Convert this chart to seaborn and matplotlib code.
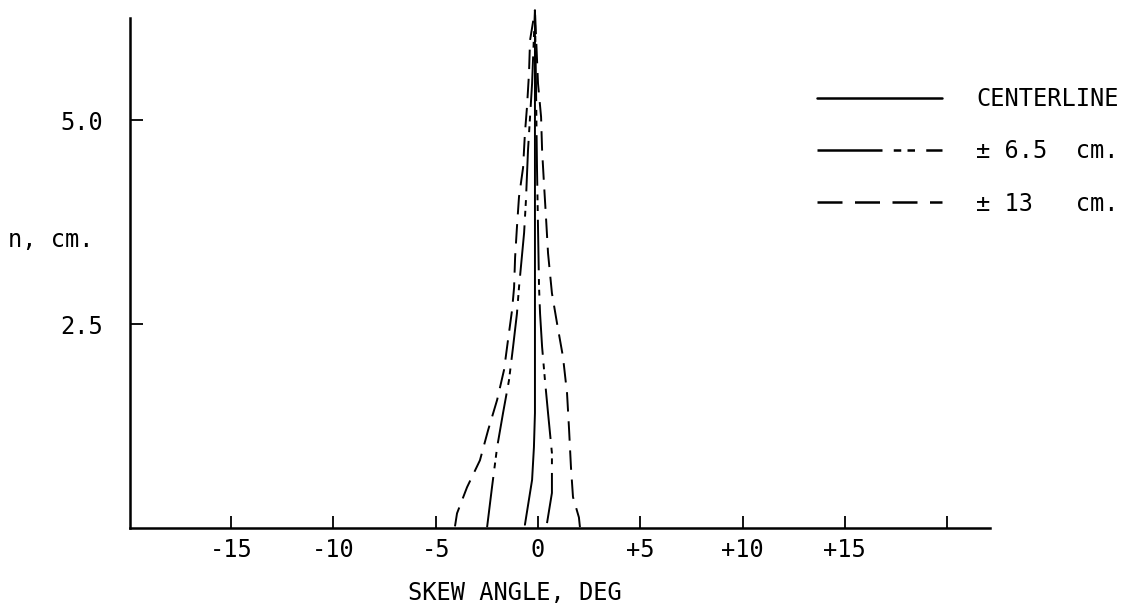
"""   Skew angle profiles across the channel: centerline, +-6.5 cm and +-13 cm   """
import matplotlib
matplotlib.use('Agg')
import matplotlib.pyplot as plt
import pandas as pd
import seaborn as sns

# ~~~~~~~  Data  ~~~~~~~ #
# each curve runs from the bed up to the peak (skew angle in deg, n in cm)
left13_x = [-4.06, -3.96, -3.47, -2.84, -2.44, -2.00, -1.66, -1.47, -1.27, -1.17,
            -1.12, -1.03, -0.93, -0.73, -0.64, -0.54, -0.44, -0.39, -0.15]
left13_y = [0.02, 0.18, 0.50, 0.83, 1.20, 1.57, 1.94, 2.30, 2.67, 2.95,
            3.32, 3.69, 4.06, 4.42, 4.84, 5.16, 5.58, 5.98, 6.35]

left65_x = [-2.49, -2.25, -2.00, -1.71, -1.42, -1.22, -1.03, -0.93, -0.68, -0.59,
            -0.49, -0.39, -0.29, -0.15]
left65_y = [0.01, 0.50, 0.99, 1.41, 1.81, 2.22, 2.63, 2.95, 3.62, 4.02,
            4.63, 5.04, 5.45, 6.35]

center_x = [-0.64, -0.29, -0.20, -0.15, -0.15, -0.15]
center_y = [0.04, 0.59, 0.99, 1.41, 4.02, 6.35]

right65_x = [0.44, 0.68, 0.68, 0.49, 0.34, 0.20, 0.10, 0.05, -0.05, -0.10, -0.15]
right65_y = [0.06, 0.43, 0.92, 1.41, 1.81, 2.22, 2.63, 2.95, 4.42, 5.45, 6.35]

right13_x = [2.05, 2.00, 1.71, 1.61, 1.52, 1.42, 1.22, 0.93, 0.68, 0.49,
             0.39, 0.29, 0.20, 0.15, 0.00, -0.15]
right13_y = [0.01, 0.13, 0.38, 0.75, 1.20, 1.65, 2.10, 2.51, 2.88, 3.37,
             3.81, 4.23, 4.63, 5.04, 5.45, 6.35]

x_ticks = [-15, -10, -5, 0, 5, 10, 15, 20]
x_tick_labels = ['-15', '-10', '-5', '0', '+5', '+10', '+15', '']
y_ticks = [2.5, 5.0]
y_tick_labels = ['2.5', '5.0']

# ~~~~~~~  Plot  ~~~~~~~ #
sns.set_style('white')
plt.rcParams['font.family'] = ['DejaVu Sans Mono', 'DejaVu Sans']
plt.rcParams['font.size'] = 17
for key in ['text.color', 'axes.labelcolor', 'xtick.color', 'ytick.color']:
    plt.rcParams[key] = 'black'

fig = plt.figure(figsize=(11.45, 6.11), dpi=100)
ax = fig.add_axes([130 / 1145, 1 - 528 / 611, 860 / 1145, 526 / 611])

dash_dot = (26, 4.5, 3, 2.5, 3, 4.5)  # long dash, two dots
dashed = (10, 5)
curves = [
    (center_x, center_y, 'CENTERLINE', None),
    (left65_x, left65_y, '± 6.5  cm.', dash_dot),
    (left13_x, left13_y, '± 13   cm.', dashed),
    (right65_x, right65_y, None, dash_dot),
    (right13_x, right13_y, None, dashed),
]
for xs, ys, label, dashes in curves:
    df = pd.DataFrame({'x': xs, 'y': ys})
    sns.lineplot(data=df, x='x', y='y', sort=False, estimator=None,
                 color='black', linewidth=1.4, ax=ax, label=label)
    if dashes is not None:
        ax.lines[-1].set_dashes(dashes)
    ax.lines[-1].set_clip_on(False)

ax.set_xlim(-19.95, 22.1)
ax.set_ylim(0, 6.45)
sns.despine(ax=ax)
ax.spines['left'].set_bounds(0, 6.25)
for side in ['left', 'bottom']:
    ax.spines[side].set_linewidth(1.8)
    ax.spines[side].set_color('black')

ax.set_xticks(x_ticks)
ax.set_xticklabels(x_tick_labels)
ax.set_yticks(y_ticks)
ax.set_yticklabels(y_tick_labels)
ax.tick_params(axis='both', direction='in', length=9, width=1.3, color='black',
               labelsize=17, labelcolor='black', bottom=True, left=True)
ax.tick_params(axis='x', pad=7)
ax.tick_params(axis='y', pad=19.5)

ax.set_xlabel('SKEW ANGLE, DEG', fontsize=17)
ax.xaxis.set_label_coords(0.448, -0.100)
ax.set_ylabel('n, cm.', fontsize=17, rotation=0, ha='left', va='center')
ax.yaxis.set_label_coords(-0.142, 0.548)

leg = ax.legend(loc='upper left', bbox_to_anchor=(817 / 1145, 1 - 87 / 611),
                bbox_transform=fig.transFigure, frameon=False, fontsize=17,
                handlelength=5.3, handletextpad=1.44, labelspacing=1.2,
                borderpad=0, borderaxespad=0)
for h in leg.get_lines():
    h.set_linewidth(1.8)

fig.savefig('out.png', dpi=100)
